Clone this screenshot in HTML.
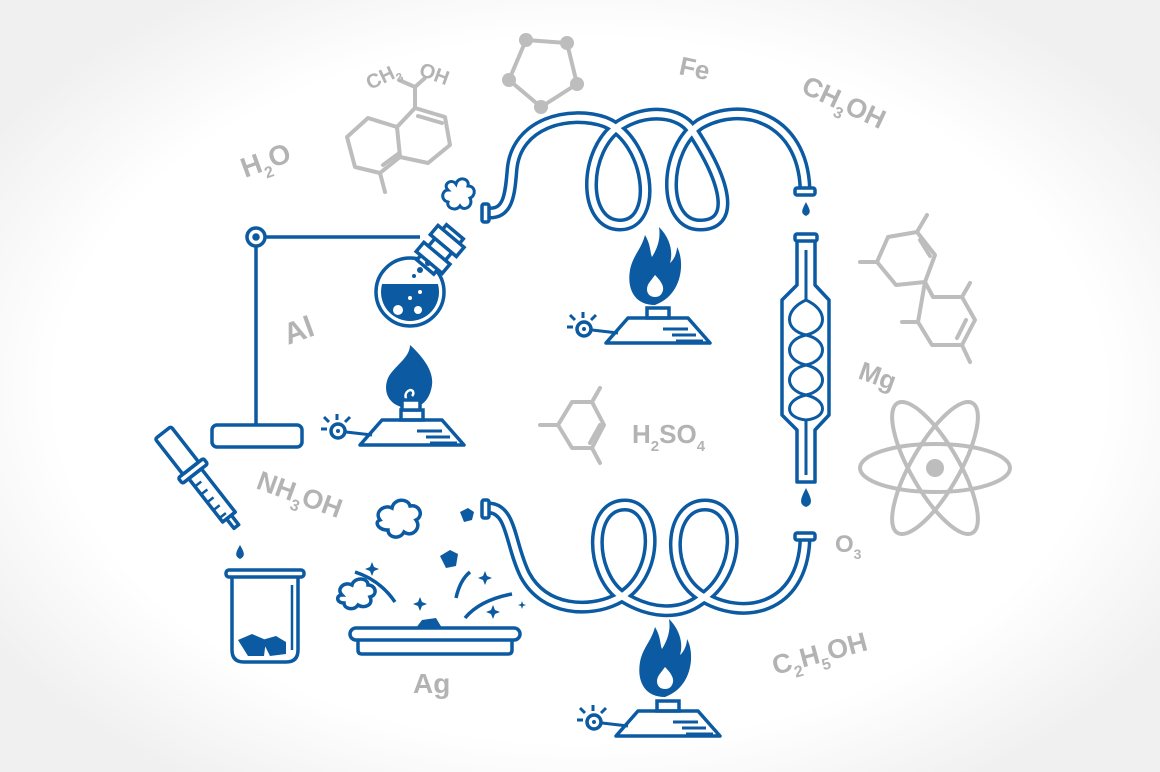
<!DOCTYPE html>
<html><head><meta charset="utf-8"><style>
html,body{margin:0;padding:0}
body{width:1160px;height:772px;overflow:hidden;background:radial-gradient(ellipse 700px 470px at 580px 390px,#fff 75%,#f0f0f0 100%);}
svg{position:absolute;left:0;top:0}
.g text{font-family:"Liberation Sans",sans-serif;font-weight:bold;fill:#b3b3b3}
</style></head><body>
<svg width="1160" height="772" viewBox="0 0 1160 772">
<defs>
<clipPath id="fc"><circle cx="410" cy="292" r="29"/></clipPath>
<g id="burner">
  <path d="M-52,0 L-30,-25 L30,-25 L52,0 Z" fill="none" stroke="#0b5aa2" stroke-width="3.5" stroke-linejoin="round"/>
  <path d="M5,-14 L30,-14 M14,-8 L38,-8 M18,-2 L45,-2" stroke="#0b5aa2" stroke-width="3"/>
  <rect x="-11" y="-35" width="22" height="10" fill="none" stroke="#0b5aa2" stroke-width="3.5"/>
  <line x1="-40" y1="-10" x2="-66" y2="-13" stroke="#0b5aa2" stroke-width="3"/>
  <circle cx="-74" cy="-14" r="7" fill="none" stroke="#0b5aa2" stroke-width="3.5"/>
  <circle cx="-74" cy="-14" r="2" fill="#0b5aa2"/>
  <path d="M-85,-16 h-6 M-83,-23 l-5,-5 M-75,-25 v-6 M-67,-23 l5,-5" stroke="#0b5aa2" stroke-width="3"/>
</g>
<g id="bigflame">
  <path d="M0,0 C-22,0 -28,-18 -25,-35 C-22,-50 -14,-55 -10,-70 C-4,-60 -5,-52 -3,-48 C2,-56 6,-66 4,-78 C16,-66 18,-52 15,-42 C20,-46 22,-54 22,-58 C30,-44 28,-10 0,0 Z" fill="#0b5aa2"/>
  <path d="M0,-8 C-8,-8 -10,-16 -6,-22 C-3,-26 0,-30 0,-30 C4,-26 9,-20 8,-15 C7,-10 4,-8 0,-8 Z" fill="#fff"/>
</g>
</defs>

<g fill="none" stroke="#bdbdbd" stroke-width="4" stroke-linejoin="round" stroke-linecap="round">
  <path d="M368,118 L347,137 L355,167 L380,173 L400,157 L397,127 Z"/>
  <path d="M397,127 L415,108 L445,117 L450,145 L428,163 L400,157"/>
  <path d="M418,116 L442,123 M383,165 L398,154"/>
  <path d="M415,108 L415,87 L399,80 M415,87 L425,78 M380,173 L385,192"/>
  <path d="M526,40 L567,43 L577,84 L541,107 L509,80 Z"/>
  <path d="M888,237 L917,232 L935,255 L925,282 L896,285 L877,262 Z"/>
  <path d="M920,240 L930,256 M917,232 L927,215 M877,262 L860,262"/>
  <path d="M925,282 L933,297 L962,297 L975,320 L962,345 L932,345 L918,322 Z"/>
  <path d="M957,338 L966,320 M962,297 L970,283 M918,322 L902,322 M962,345 L970,362"/>
  <path d="M572,402 L592,402 L604,425 L592,448 L572,448 L558,425 Z"/>
  <path d="M590,443 L600,425 M592,402 L600,388 M558,425 L540,425 M592,448 L600,463"/>
  <ellipse cx="935" cy="468" rx="75" ry="24"/>
  <ellipse cx="935" cy="468" rx="75" ry="24" transform="rotate(60 935 468)"/>
  <ellipse cx="935" cy="468" rx="75" ry="24" transform="rotate(-60 935 468)"/>
</g>
<g fill="#bdbdbd">
  <circle cx="526" cy="40" r="7"/><circle cx="567" cy="43" r="7"/><circle cx="577" cy="84" r="7"/><circle cx="541" cy="107" r="7"/><circle cx="509" cy="80" r="7"/>
  <circle cx="935" cy="468" r="9"/>
</g>

<g class="g">
  <text x="245" y="178" font-size="28" transform="rotate(-20 245 178)">H<tspan font-size="16" dy="8">2</tspan><tspan dy="-8">O</tspan></text>
  <text x="370" y="90" font-size="20" transform="rotate(-25 370 90)">CH<tspan font-size="12" dy="5">3</tspan></text>
  <text x="418" y="75" font-size="20" transform="rotate(20 418 75)">OH</text>
  <text x="288" y="345" font-size="30" transform="rotate(-20 288 345)">Al</text>
  <text x="255" y="488" font-size="27" transform="rotate(20 255 488)">NH<tspan font-size="16" dy="8">3</tspan><tspan dy="-8">OH</tspan></text>
  <text x="413" y="693" font-size="28">Ag</text>
  <text x="678" y="74" font-size="26" transform="rotate(12 678 74)">Fe</text>
  <text x="800" y="92" font-size="27" transform="rotate(25 800 92)">CH<tspan font-size="16" dy="8">3</tspan><tspan dy="-8">OH</tspan></text>
  <text x="632" y="443" font-size="26">H<tspan font-size="15" dy="8">2</tspan><tspan dy="-8">SO</tspan><tspan font-size="15" dy="8">4</tspan></text>
  <text x="857" y="378" font-size="26" transform="rotate(20 857 378)">Mg</text>
  <text x="835" y="552" font-size="24">O<tspan font-size="14" dy="7">3</tspan></text>
  <text x="775" y="675" font-size="27" transform="rotate(-15 775 675)">C<tspan font-size="16" dy="8">2</tspan><tspan dy="-8">H</tspan><tspan font-size="16" dy="8">5</tspan><tspan dy="-8">OH</tspan></text>
</g>

<g fill="none" stroke-linecap="butt" stroke-linejoin="round">
  <path d="M490,213 C508,213 510,195 512,170 C516,122 570,110 605,122 C650,140 660,225 620,225 C582,225 582,150 620,125 C648,108 680,112 692,130 C728,185 735,225 700,225 C662,225 662,150 700,124 C742,100 802,118 805,188" stroke="#0b5aa2" stroke-width="13"/>
  <path d="M490,213 C508,213 510,195 512,170 C516,122 570,110 605,122 C650,140 660,225 620,225 C582,225 582,150 620,125 C648,108 680,112 692,130 C728,185 735,225 700,225 C662,225 662,150 700,124 C742,100 802,118 805,188" stroke="#fff" stroke-width="6"/>
  <path d="M490,508 C512,510 510,545 525,575 C545,612 590,612 615,600 C660,580 660,505 625,505 C588,505 590,572 620,595 C650,615 680,615 700,600 C742,575 742,505 705,505 C668,505 665,572 700,595 C742,622 802,610 805,540" stroke="#0b5aa2" stroke-width="13"/>
  <path d="M490,508 C512,510 510,545 525,575 C545,612 590,612 615,600 C660,580 660,505 625,505 C588,505 590,572 620,595 C650,615 680,615 700,600 C742,575 742,505 705,505 C668,505 665,572 700,595 C742,622 802,610 805,540" stroke="#fff" stroke-width="6"/>
</g>
<g fill="#fff" stroke="#0b5aa2" stroke-width="3.5">
  <rect x="482" y="204" width="7" height="18" rx="2"/>
  <rect x="795" y="188" width="20" height="7" rx="2"/>
  <rect x="482" y="500" width="7" height="18" rx="2"/>
  <rect x="795" y="533" width="20" height="7" rx="2"/>
</g>
<g fill="#0b5aa2">
  <path d="M806,202 C810,210 812,213 806,216 C800,213 802,210 806,202 Z"/>
  <path d="M806,488 C811,498 814,504 806,507 C798,504 801,498 806,488 Z"/>
  <path d="M240,545 C244,552 246,556 240,559 C234,556 236,552 240,545 Z"/>
</g>

<g fill="none" stroke="#0b5aa2" stroke-width="3.5" stroke-linejoin="round">
  <rect x="795" y="234" width="22" height="7" rx="2"/>
  <path d="M797,241 L797,285 L782,300 L782,415 L797,430 L797,482 L815,482 L815,430 L829,415 L829,300 L815,285 L815,241"/>
  <path d="M806,250 L806,300 C784,310 784,330 806,335 C828,340 828,360 806,365 C784,370 784,390 806,395 C828,400 828,418 806,420 C784,418 784,400 806,395 C828,390 828,370 806,365 C784,360 784,340 806,335 C828,330 828,310 806,300 M806,420 L806,475" stroke-width="3"/>
</g>

<use href="#burner" x="658" y="343"/>
<use href="#bigflame" x="655" y="305"/>
<use href="#burner" x="412" y="445"/>
<path d="M410,408 C390,408 382,393 388,378 C394,366 410,358 410,345 C421,355 434,370 432,385 C430,400 421,408 410,408 Z" fill="#0b5aa2"/>
<path d="M410,410 L410,402 C404,400 404,392 410,390 C414,390 414,394 412,396" fill="none" stroke="#fff" stroke-width="2.5"/>
<rect x="402" y="400" width="18" height="10" fill="#fff" stroke="#0b5aa2" stroke-width="3.5"/>
<use href="#burner" x="668" y="736"/>
<use href="#bigflame" x="665" y="697"/>

<g fill="none" stroke="#0b5aa2" stroke-width="3.5">
  <circle cx="256" cy="237" r="9"/>
  <circle cx="256" cy="237" r="2" fill="#0b5aa2"/>
  <path d="M265,237 L420,237 M256,246 L256,425"/>
  <rect x="212" y="425" width="90" height="22" rx="5"/>
</g>
<rect x="375" y="284" width="70" height="40" fill="#0b5aa2" clip-path="url(#fc)"/>
<g stroke="#0b5aa2" stroke-width="3.5" fill="none">
  <circle cx="410" cy="292" r="34"/>
  <g transform="rotate(40 440 248)">
    <rect x="430" y="226" width="22" height="46" fill="#fff"/>
    <rect x="424" y="232" width="34" height="12" fill="#fff"/>
    <rect x="424" y="254" width="34" height="12" fill="#fff"/>
  </g>
  <path d="M448,190 c-6,-6 4,-12 8,-6 c2,-8 14,-6 12,2 c8,0 8,10 2,12 c4,8 -6,14 -10,8 c-4,6 -14,2 -12,-4 c-8,-2 -6,-12 0,-12 Z" fill="#fff" stroke-width="3"/>
</g>
<g fill="#fff"><circle cx="398" cy="310" r="5"/><circle cx="418" cy="310" r="4"/><circle cx="410" cy="298" r="2"/><circle cx="420" cy="292" r="2"/></g>
<g fill="#0b5aa2"><circle cx="420" cy="270" r="3"/><circle cx="428" cy="263" r="3"/><circle cx="414" cy="276" r="2"/></g>

<g transform="rotate(-38 200 480)" fill="none" stroke="#0b5aa2" stroke-width="3.5" stroke-linejoin="round">
  <rect x="190" y="420" width="20" height="45" rx="2"/>
  <rect x="184" y="465" width="32" height="7" rx="2"/>
  <rect x="192" y="472" width="16" height="55"/>
  <path d="M192,482 h8 M192,492 h8 M192,502 h8 M192,512 h8 M192,522 h8" stroke-width="2.5"/>
  <path d="M197,527 v12 h6 v-12"/>
</g>
<g fill="none" stroke="#0b5aa2" stroke-width="3.5">
  <rect x="226" y="570" width="78" height="7" rx="3"/>
  <path d="M232,577 L232,650 Q232,662 244,662 L286,662 Q298,662 298,650 L298,577"/>
  <path d="M292,585 L292,650" stroke-width="2.5"/>
</g>
<path d="M238,640 l14,-6 l14,6 l-2,16 l-16,0 Z M262,640 l14,-4 l10,6 l0,12 l-16,2 Z" fill="#0b5aa2"/>

<g fill="none" stroke="#0b5aa2" stroke-width="3.5">
  <rect x="350" y="628" width="170" height="12" rx="6"/>
  <path d="M358,640 L358,650 Q358,654 362,654 L508,654 Q512,654 512,650 L512,640"/>
  <path d="M380,520 c-6,-8 4,-16 12,-12 c2,-10 16,-10 18,-2 c10,-2 14,10 6,14 c6,8 -4,18 -12,12 c-4,8 -16,6 -16,-2 c-10,0 -14,-8 -8,-10 Z" fill="#fff"/>
  <path d="M342,595 c-6,-6 2,-14 10,-10 c2,-8 16,-8 16,0 c8,0 10,10 2,12 c4,8 -6,12 -12,8 c-4,6 -14,4 -14,-2 c-8,0 -8,-8 -2,-8 Z" fill="#fff"/>
  <path d="M355,572 Q380,580 395,602 M456,598 Q460,580 470,572 M465,618 Q480,600 512,594"/>
</g>
<g fill="#0b5aa2">
  <path d="M460,512 l8,-4 l6,4 l-2,8 l-8,2 Z"/>
  <path d="M440,556 l10,-6 l8,4 l-2,12 l-10,2 Z"/>
  <path d="M416,628 l6,-8 l14,-2 l6,10 Z"/>
  <path d="M372,562 l2,5 l5,2 l-5,2 l-2,5 l-2,-5 l-5,-2 l5,-2 Z"/>
  <path d="M420,597 l2,5 l5,2 l-5,2 l-2,5 l-2,-5 l-5,-2 l5,-2 Z"/>
  <path d="M485,571 l2,5 l5,2 l-5,2 l-2,5 l-2,-5 l-5,-2 l5,-2 Z"/>
  <path d="M493,605 l2,5 l5,2 l-5,2 l-2,5 l-2,-5 l-5,-2 l5,-2 Z"/>
  <path d="M522,601 l1,3 l3,1 l-3,1 l-1,3 l-1,-3 l-3,-1 l3,-1 Z"/>
</g>
</svg>
</body></html>
